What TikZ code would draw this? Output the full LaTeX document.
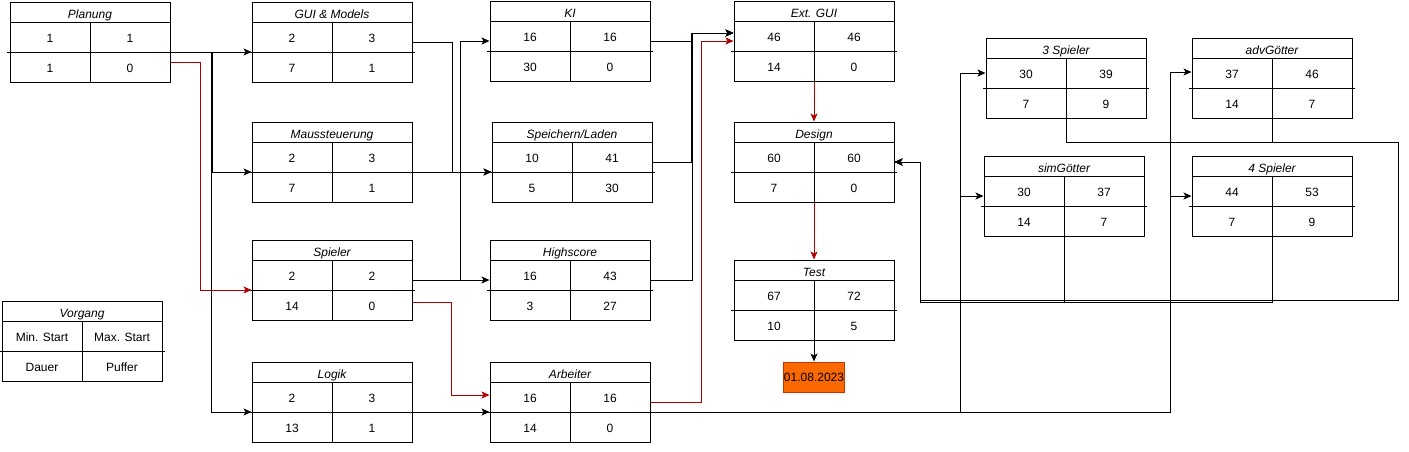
\documentclass[tikz,border=0pt]{standalone}
\usepackage{fontspec}
\setmainfont{Liberation Sans}
\usetikzlibrary{arrows.meta}
\definecolor{critred}{HTML}{B20000}
\definecolor{dateorange}{HTML}{FA6800}
\definecolor{dateborder}{HTML}{C73500}

\tikzset{
  boxst/.style={draw=black, rectangle, minimum width=160pt, minimum height=80pt, inner sep=0pt},
  innerline/.style={draw=black, line width=1pt},
  cellst/.style={inner sep=0pt, text height=8.6pt, text depth=0pt},
  titlest/.style={inner sep=0pt, text height=8.6pt, text depth=0pt, font=\fontsize{12}{14}\selectfont\itshape},
  arr/.style={draw=black, -{Stealth[length=8pt,width=7pt,inset=2pt]}},
  crit/.style={draw=critred, -{Stealth[length=8pt,width=7pt,inset=2pt]}},
  datest/.style={draw=dateborder, fill=dateorange, minimum width=60pt, minimum height=30pt, inner sep=0pt, text height=8.6pt, text depth=0pt}
}

\newcommand{\pertbox}[8]{%
  \node[boxst] (#1) at (#2+80,#3+40) {};
  \draw[innerline] (#2,#3+20) -- (#2+160,#3+20);
  \draw[innerline] (#2-3,#3+50) -- (#2+163,#3+50);
  \draw[innerline] (#2+80,#3+20) -- (#2+80,#3+80);
  \node[titlest] (#1-t) at (#2+80,#3+12) {#4};
  \node[cellst] (#1-a) at (#2+40,#3+36) {#5};
  \node[cellst] (#1-b) at (#2+120,#3+36) {#6};
  \node[cellst] (#1-c) at (#2+40,#3+66) {#7};
  \node[cellst] (#1-d) at (#2+120,#3+66) {#8};
}

\begin{document}
\begin{tikzpicture}[x=1pt, y=-1pt, line width=1pt, font=\fontsize{12}{14}\selectfont]
\useasboundingbox (0,0) rectangle (1409,451);

% boxes
\pertbox{plan}{10}{2}{Planung}{1}{1}{1}{0}
\pertbox{gui}{252}{2}{GUI \& Models}{2}{3}{7}{1}
\pertbox{maus}{252}{122}{Maussteuerung}{2}{3}{7}{1}
\pertbox{spieler}{252}{240}{Spieler}{2}{2}{14}{0}
\pertbox{logik}{252}{362}{Logik}{2}{3}{13}{1}
\pertbox{vorgang}{2}{301}{Vorgang}{Min. Start}{Max. Start}{Dauer}{Puffer}
\pertbox{ki}{490}{1}{KI}{16}{16}{30}{0}
\pertbox{speichern}{492}{122}{Speichern/Laden}{10}{41}{5}{30}
\pertbox{highscore}{490}{240}{Highscore}{16}{43}{3}{27}
\pertbox{arbeiter}{490}{362}{Arbeiter}{16}{16}{14}{0}
\pertbox{extgui}{734}{1}{Ext. GUI}{46}{46}{14}{0}
\pertbox{design}{734}{122}{Design}{60}{60}{7}{0}
\pertbox{test}{734}{260}{Test}{67}{72}{10}{5}
\pertbox{drei}{986}{38}{3 Spieler}{30}{39}{7}{9}
\pertbox{adv}{1192}{38}{advGötter}{37}{46}{14}{7}
\pertbox{sim}{984}{156}{simGötter}{30}{37}{14}{7}
\pertbox{vier}{1192}{156}{4 Spieler}{44}{53}{7}{9}

\node[datest] (date) at (814,377) {01.08.2023};

% loop coordinates
\coordinate (loopR) at (1398,142);
\coordinate (loopL) at (920,300);
\coordinate (loopL2) at (920,302);

% Planung
\draw[arr] ([yshift=-10pt]plan.east) -- ([yshift=-10pt]gui.west);
\draw[arr] ([yshift=-10pt]plan.east) -- ++(42,0) |- ([yshift=-10pt]maus.west);
\draw[arr] ([yshift=-10pt]plan.east) -- ++(41,0) |- ([yshift=-10pt]logik.west);
\draw[crit] ([yshift=-20pt]plan.east) -- ++(30,0) |- ([yshift=-10pt]spieler.west);

% second column
\draw[arr] (gui.east) -- ++(40,0) |- ([yshift=-10pt]speichern.west);
\draw[arr] ([yshift=-10pt]maus.east) -- ([yshift=-10pt]speichern.west);
\draw[arr] (spieler.east) -- ++(48,0) |- (ki.west);
\draw[arr] (spieler.east) -- (highscore.west);
\draw[crit] ([yshift=-22pt]spieler.east) -- ++(39,0) |- ([yshift=7pt]arbeiter.west);
\draw[arr] ([yshift=-10pt]logik.east) -- ([yshift=-10pt]arbeiter.west);

% third column
\draw[arr] (ki.east) -- ++(42,0) |- ([yshift=8pt]extgui.west);
\draw[arr] (speichern.east) -- ++(39,0) |- ([yshift=8pt]extgui.west);
\draw[arr] (highscore.east) -- ++(42,0) |- ([yshift=8pt]extgui.west);
\draw[crit] (arbeiter.east) -- ++(51,0) |- (extgui.west);

\draw[arr] ([yshift=-10pt]arbeiter.east) -- ++(310,0) |- ([yshift=5pt]drei.west);
\draw[arr] ([yshift=-10pt]arbeiter.east) -- ++(310,0) |- (sim.west);
\draw[arr] ([yshift=-10pt]arbeiter.east) -- ++(520,0) |- ([yshift=6pt]adv.west);
\draw[arr] ([yshift=-10pt]arbeiter.east) -- ++(520,0) |- (vier.west);

% critical path down
\draw[crit] (extgui.south) -- (design.north);
\draw[crit] (design.south) -- (test.north);
\draw[arr] (test.south) -- (date.north);

% back to design
\draw[arr] (drei.south) |- (loopR) |- (loopL) |- (design.east);
\draw[arr] (adv.south) |- (loopR) |- (loopL) |- (design.east);
\draw[arr] (sim.south) |- (loopL2) |- (design.east);
\draw[arr] (vier.south) |- (loopL2) |- (design.east);
\end{tikzpicture}
\end{document}
